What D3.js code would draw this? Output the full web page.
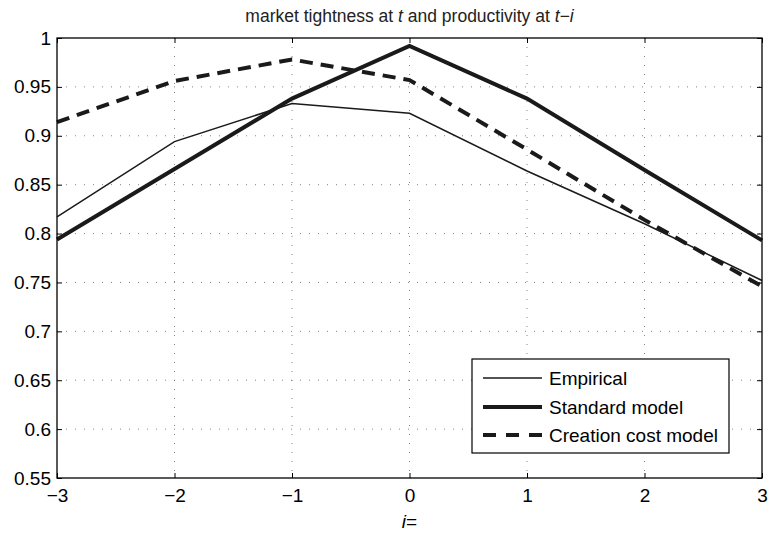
<!DOCTYPE html>
<html>
<head>
<meta charset="utf-8">
<script src="https://cdn.jsdelivr.net/npm/d3@7"></script>
<style>
  body { margin: 0; background: #fff; }
  svg { display: block; font-family: "Liberation Sans", Arial, Helvetica, sans-serif; }
</style>
</head>
<body>
<svg id="chart" width="770" height="533"></svg>
<script>
const lags = [-3, -2, -1, 0, 1, 2, 3];
const empirical = [0.817, 0.894, 0.933, 0.923, 0.864, 0.810, 0.752];
const standardModel = [0.794, 0.866, 0.938, 0.992, 0.938, 0.865, 0.793];
const creationCostModel = [0.914, 0.956, 0.978, 0.957, 0.886, 0.814, 0.746];
const seriesNames = ["Empirical", "Standard model", "Creation cost model"];
const xTicks = [-3, -2, -1, 0, 1, 2, 3];
const yTicks = [0.55, 0.6, 0.65, 0.7, 0.75, 0.8, 0.85, 0.9, 0.95, 1];

const styles = [
  { width: 1.5, dash: null },
  { width: 4, dash: null },
  { width: 4, dash: "13,8" }
];
const seriesValues = [empirical, standardModel, creationCostModel];

const svg = d3.select("#chart");
const L = 57, R = 762, T = 38, B = 478;
const x = d3.scaleLinear().domain([-3, 3]).range([L, R]);
const y = d3.scaleLinear().domain([0.55, 1]).range([B, T]);

// grid
const grid = svg.append("g");
xTicks.slice(1, -1).forEach(t => {
  grid.append("line").attr("x1", x(t)).attr("x2", x(t)).attr("y1", T).attr("y2", B)
    .attr("stroke", "#666").attr("stroke-width", 0.8).attr("stroke-dasharray", "1,8");
});
yTicks.slice(1, -1).forEach(t => {
  grid.append("line").attr("x1", L).attr("x2", R).attr("y1", y(t)).attr("y2", y(t))
    .attr("stroke", "#666").attr("stroke-width", 0.8).attr("stroke-dasharray", "1,8");
});

// axes
const fmt = d => String(d).replace("-", "\u2212");
const xAxisB = d3.axisBottom(x).tickValues(xTicks).tickSizeInner(-5).tickSizeOuter(0).tickPadding(11).tickFormat(fmt);
const xAxisT = d3.axisTop(x).tickValues(xTicks).tickSizeInner(-5).tickSizeOuter(0).tickFormat("");
const yAxisL = d3.axisLeft(y).tickValues(yTicks).tickSizeInner(-5).tickSizeOuter(0).tickPadding(6).tickFormat(d => String(+d.toFixed(2)));
const yAxisR = d3.axisRight(y).tickValues(yTicks).tickSizeInner(-5).tickSizeOuter(0).tickFormat("");

function styleAxis(g) {
  g.select(".domain").remove();
  g.selectAll(".tick line").attr("stroke", "#000").attr("stroke-width", 1);
  g.selectAll("text").attr("fill", "#000").style("font-size", "19px");
}
svg.append("g").attr("transform", `translate(0,${B})`).call(xAxisB).call(styleAxis);
svg.append("g").attr("transform", `translate(0,${T})`).call(xAxisT).call(styleAxis);
svg.append("g").attr("transform", `translate(${L},0)`).call(yAxisL).call(styleAxis);
svg.append("g").attr("transform", `translate(${R},0)`).call(yAxisR).call(styleAxis);

// lines
const line = d3.line().x((d, i) => x(lags[i])).y(d => y(d));
seriesValues.forEach((vals, k) => {
  svg.append("path").datum(vals).attr("d", line)
    .attr("fill", "none").attr("stroke", "#1a1a1a")
    .attr("stroke-width", styles[k].width)
    .attr("stroke-dasharray", styles[k].dash)
    .attr("stroke-linejoin", "miter");
});

// frame
svg.append("rect").attr("x", L).attr("y", T).attr("width", R - L).attr("height", B - T)
  .attr("fill", "none").attr("stroke", "#000").attr("stroke-width", 1.3);

// title
const title = svg.append("text").attr("x", (L + R) / 2).attr("y", 22)
  .attr("text-anchor", "middle").style("font-size", "17.5px").attr("fill", "#222");
title.append("tspan").text("market tightness at ");
title.append("tspan").attr("font-style", "italic").text("t");
title.append("tspan").text(" and productivity at ");
title.append("tspan").attr("font-style", "italic").text("t\u2212i");

// x label
const xl = svg.append("text").attr("x", x(0)).attr("y", 528).attr("text-anchor", "middle")
  .style("font-size", "19px").attr("fill", "#000");
xl.append("tspan").attr("font-style", "italic").text("i");
xl.append("tspan").text("=");

// legend
const lg = svg.append("g");
lg.append("rect").attr("x", 472).attr("y", 359).attr("width", 257).attr("height", 94)
  .attr("fill", "#fff").attr("stroke", "#000").attr("stroke-width", 1.2);
const legY = [378, 407, 435];
seriesNames.forEach((name, k) => {
  lg.append("line").attr("x1", 483).attr("x2", 542).attr("y1", legY[k]).attr("y2", legY[k])
    .attr("stroke", "#1a1a1a").attr("stroke-width", styles[k].width)
    .attr("stroke-dasharray", k === 2 ? "13,10" : null);
  lg.append("text").attr("x", 549).attr("y", legY[k]).attr("dy", "0.35em")
    .style("font-size", "19px").attr("fill", "#000").text(name);
});
</script>
</body>
</html>
